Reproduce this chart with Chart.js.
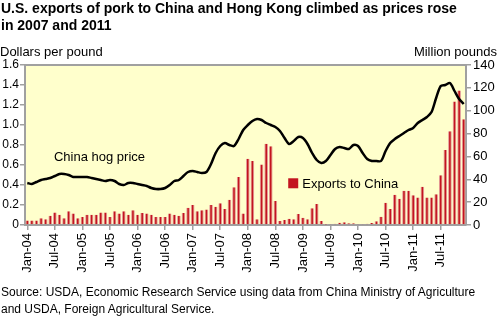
<!DOCTYPE html>
<html>
<head>
<meta charset="utf-8">
<script src="https://cdn.jsdelivr.net/npm/chart.js@4.4.1/dist/chart.umd.min.js"></script>
<style>
  body { margin: 0; background: #fff; font-family: Arial, "Liberation Sans", sans-serif; }
  #wrap { position: relative; width: 500px; height: 325px; overflow: hidden; }
  #chart { position: absolute; left: 0; top: 0; }
  .txt { position: absolute; color: #000; white-space: nowrap; }
  #title { left: 1px; top: 0px; font-size: 14px; font-weight: bold; line-height: 17px; }
  #unitL { left: 0; top: 44px; font-size: 13px; }
  #unitR { right: 3px; top: 44px; font-size: 13px; }
  #source { left: 1px; top: 284px; font-size: 12px; line-height: 17px; }
</style>
</head>
<body>
<div id="wrap">
  <canvas id="chart" width="500" height="325"></canvas>
  <div class="txt" id="title">U.S. exports of pork to China and Hong Kong climbed as prices rose<br>in 2007 and 2011</div>
  <div class="txt" id="unitL">Dollars per pound</div>
  <div class="txt" id="unitR">Million pounds</div>
  <div class="txt" id="source">Source: USDA, Economic Research Service using data from China Ministry of Agriculture<br>and USDA, Foreign Agricultural Service.</div>
</div>
<script>
const years = ["04", "05", "06", "07", "08", "09", "10", "11"]
const monthNames = ["Jan", "Feb", "Mar", "Apr", "May", "Jun", "Jul", "Aug", "Sep", "Oct", "Nov", "Dec"]

const months = []
years.forEach(y => monthNames.forEach(m => months.push(m + "-" + y)))

// China hog price, dollars per pound
const hogPrice = [
    0.42, 0.41, 0.43, 0.45, 0.46, 0.47, 0.49, 0.51, 0.51, 0.50, 0.48, 0.48,
    0.48, 0.48, 0.47, 0.46, 0.45, 0.44, 0.45, 0.44, 0.41, 0.40, 0.42, 0.42,
    0.41, 0.40, 0.39, 0.37, 0.36, 0.36, 0.37, 0.40, 0.44, 0.45, 0.49, 0.53,
    0.54, 0.53, 0.52, 0.53, 0.61, 0.72, 0.79, 0.82, 0.80, 0.79, 0.86, 0.95,
    1.00, 1.04, 1.06, 1.05, 1.02, 1.00, 0.98, 0.94, 0.87, 0.81, 0.84, 0.88,
    0.87, 0.81, 0.72, 0.65, 0.62, 0.64, 0.70, 0.76, 0.78, 0.77, 0.76, 0.80,
    0.79, 0.72, 0.66, 0.64, 0.64, 0.64, 0.74, 0.82, 0.86, 0.89, 0.92, 0.95,
    0.97, 1.02, 1.05, 1.08, 1.13, 1.27, 1.39, 1.40, 1.42, 1.34, 1.26, 1.21
]

// U.S. pork exports to China, million pounds
const exportsChina = [
    4, 4, 4, 6, 5, 8, 11, 9, 6, 12, 10, 6,
    7, 9, 9, 9, 11, 11, 7, 12, 10, 12, 9, 13,
    9, 10.5, 10, 9, 7, 7, 7, 10, 9, 8, 10.5, 15,
    17.5, 12, 13, 13.5, 17.5, 16, 19, 14, 22, 33, 42, 10,
    58, 56, 5, 53, 71, 69, 21, 3.5, 4.4, 5.5, 5, 9.6,
    6.4, 5, 14.6, 18.4, 3.5, 0.3, 0.5, 1, 2, 2.3, 1.5, 1.5,
    0.5, 0.8, 1, 1.7, 3.2, 7.3, 19.5, 14, 26.5, 23, 30, 30,
    26, 24, 33.5, 24, 24, 27, 43.5, 65.6, 82, 108, 117.6, 92.5
]

const leftTicks = [0, 0.2, 0.4, 0.6, 0.8, 1.0, 1.2, 1.4, 1.6]
const rightTicks = [0, 20, 40, 60, 80, 100, 120, 140]

const axisGray = "#a0a0a0"
const barRed = "#c3141f"

Chart.defaults.font.family = "Arial, 'Liberation Sans', sans-serif"
Chart.defaults.font.size = 12
Chart.defaults.color = "#000"

const areaPlugin = {
    id: "area",
    beforeDraw(chart) {
        const { ctx, chartArea: a } = chart
        ctx.save()
        ctx.fillStyle = "#ffffcc"
        ctx.fillRect(a.left, a.top, a.right - a.left, a.bottom - a.top)
        ctx.restore()
    },
    afterDraw(chart) {
        const { ctx, chartArea: a, scales } = chart
        ctx.save()
        ctx.strokeStyle = axisGray
        ctx.lineWidth = 2
        ctx.beginPath()
        ctx.moveTo(a.left - 1, a.top)
        ctx.lineTo(a.right + 1, a.top)
        ctx.stroke()

        ctx.font = "13px Arial, 'Liberation Sans', sans-serif"
        ctx.fillStyle = "#000"
        ctx.textBaseline = "middle"
        ctx.fillText("China hog price", scales.x.getPixelForValue(5.8), scales.y.getPixelForValue(0.68))

        const lx = scales.x.getPixelForValue(56.8)
        const ly = scales.y2.getPixelForValue(36.5)
        ctx.fillStyle = barRed
        ctx.fillRect(lx, ly - 5, 10, 10)
        ctx.fillStyle = "#000"
        ctx.fillText("Exports to China", lx + 14, ly + 1)
        ctx.restore()
    }
}

new Chart(document.getElementById("chart"), {
    type: "bar",
    data: {
        labels: months,
        datasets: [
            {
                type: "line",
                label: "China hog price",
                data: hogPrice,
                yAxisID: "y",
                borderColor: "#000",
                borderWidth: 2.5,
                pointRadius: 0,
                tension: 0.3,
                order: 0
            },
            {
                label: "Exports to China",
                data: exportsChina,
                yAxisID: "y2",
                backgroundColor: barRed,
                borderColor: "#e49a9a",
                borderWidth: { left: 1, right: 1, top: 0, bottom: 0 },
                barPercentage: 0.8,
                categoryPercentage: 1,
                order: 1
            }
        ]
    },
    options: {
        responsive: false,
        animation: false,
        layout: { padding: { top: 65, bottom: 50, left: 0, right: 0 } },
        plugins: {
            legend: { display: false },
            tooltip: { enabled: false }
        },
        scales: {
            x: {
                offset: true,
                afterFit: s => { s.height = 50 },
                grid: {
                    offset: false,
                    drawOnChartArea: false,
                    color: axisGray,
                    tickLength: 5,
                    lineWidth: 1.5
                },
                border: { color: axisGray, width: 2 },
                ticks: {
                    autoSkip: false,
                    maxRotation: 90,
                    minRotation: 90,
                    padding: 3,
                    font: { size: 13 },
                    callback: function(value, index) {
                        return index % 6 === 0 ? months[index] : null
                    }
                }
            },
            y: {
                position: "left",
                min: 0,
                max: 1.6,
                afterFit: s => { s.width = 25 },
                afterBuildTicks: s => { s.ticks = leftTicks.map(v => ({ value: v })) },
                grid: { drawOnChartArea: false, color: axisGray, tickLength: 5, lineWidth: 1.5 },
                border: { color: axisGray, width: 2 },
                ticks: {
                    padding: 1,
                    callback: v => v === 0 ? "0" : v.toFixed(1)
                }
            },
            y2: {
                position: "right",
                min: 0,
                max: 140,
                afterFit: s => { s.width = 34 },
                afterBuildTicks: s => { s.ticks = rightTicks.map(v => ({ value: v })) },
                grid: { drawOnChartArea: false, color: axisGray, tickLength: 5, lineWidth: 1.5 },
                border: { color: axisGray, width: 2 },
                ticks: {
                    padding: 2,
                    font: { size: 13 },
                    callback: v => String(v)
                }
            }
        }
    },
    plugins: [areaPlugin]
})
</script>
</body>
</html>
